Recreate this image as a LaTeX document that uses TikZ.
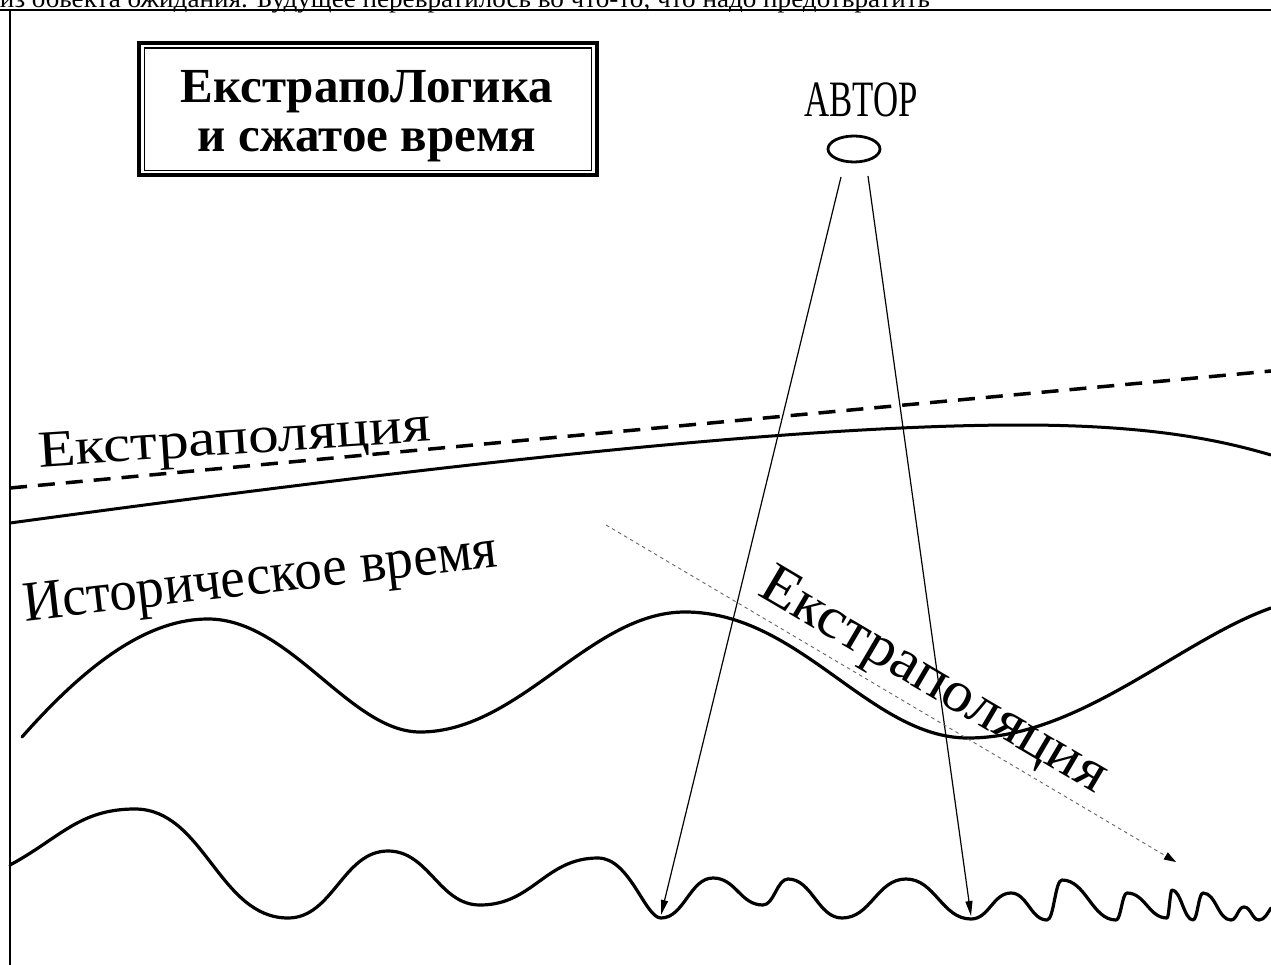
\documentclass[tikz,border=0pt]{standalone}
\usepackage{fontspec}
\setmainfont{Liberation Serif}
\usetikzlibrary{arrows.meta,shapes.geometric}
\begin{document}
\begin{tikzpicture}[x=1pt,y=-1pt,
  wave/.style={line width=3.2pt, line cap=round, line join=round},
  ray/.style={line width=1.2pt, -{Triangle[length=15pt,width=7pt]}},
  lbl/.style={inner sep=0pt, outer sep=0pt},
  frameline/.style={line width=2pt},
]
\useasboundingbox (0,0) rectangle (1271,965);
\fill[white] (0,0) rectangle (1271,965);
\clip (0,0) rectangle (1271,965);

% top caption and frame
\node[lbl, anchor=base west] (note) at (0,8) {\resizebox{930pt}{\height}{\fontsize{26}{26}\selectfont из обьекта ожидания. Будущее перевратилось во что-то, что надо предотвратить}};
\draw[frameline] (0,10) -- (1271,10);
\draw[frameline] (10,10) -- (10,965);

% title
\node[draw, line width=4pt, minimum width=458pt, minimum height=132.5pt, outer sep=0pt, inner sep=0pt] (titlebox) at (368,109.25) {};
\draw[line width=1.3pt] ([xshift=5.5pt,yshift=-5pt]titlebox.north west) rectangle ([xshift=-5.5pt,yshift=5pt]titlebox.south east);
\node[lbl, anchor=base, font=\bfseries\fontsize{49}{49}\selectfont] (title1) at (367,103) {ЕкстрапоЛогика};
\node[lbl, anchor=base, font=\bfseries\fontsize{49}{49}\selectfont] (title2) at (367,152) {и сжатое время};

% author
\node[lbl, anchor=base] (authorlbl) at (861,117) {\resizebox{113pt}{\height}{\fontsize{51}{51}\selectfont АВТОР}};
\node[draw, ellipse, line width=2.8pt, minimum width=52pt, minimum height=26pt, inner sep=0pt] (author) at (854,149) {};

% dashed extrapolation line
\coordinate (dA) at (10,488);
\coordinate (dB) at (1271,371);
\draw[line width=3.5pt, dash pattern=on 17pt off 11pt] (dA) -- (dB);

% upper solid curve
\draw[line width=3pt] (10,523) .. controls (400,470) and (780,425) .. (1020,425) .. controls (1150,425) and (1220,440) .. (1271,455);

% middle wave
\draw[wave] (22,737) .. controls (90,660) and (150,619) .. (208,619)
  .. controls (290,619) and (350,732) .. (420,732)
  .. controls (520,732) and (590,612) .. (685,612)
  .. controls (800,612) and (870,738) .. (968,738)
  .. controls (1080,738) and (1180,640) .. (1271,608);

% bottom wave
\draw[wave] (10,865) .. controls (60,838) and (79,809) .. (135,809)
  .. controls (204,809) and (219,918) .. (288,918)
  .. controls (333,918) and (343,851) .. (388,851)
  .. controls (429,851) and (439,905) .. (480,905)
  .. controls (533,905) and (545,858) .. (598,858)
  .. controls (630,858) and (645,918) .. (661,918)
  .. controls (684,918) and (690,878) .. (713,878)
  .. controls (736,878) and (740,905) .. (763,905)
  .. controls (774,905) and (777,879) .. (788,879)
  .. controls (812,879) and (818,918) .. (842,918)
  .. controls (871,918) and (877,879) .. (906,879)
  .. controls (935,879) and (942,919) .. (971,919)
  .. controls (989,919) and (993,893) .. (1011,893)
  .. controls (1027,893) and (1031,920) .. (1047,920)
  .. controls (1054,920) and (1055,880) .. (1062,880)
  .. controls (1086,880) and (1092,920) .. (1116,920)
  .. controls (1121,920) and (1122,893) .. (1127,893)
  .. controls (1145,893) and (1149,918) .. (1167,918)
  .. controls (1169,918) and (1170,890) .. (1172,890)
  .. controls (1181,890) and (1184,920) .. (1193,920)
  .. controls (1197.5,920) and (1198.5,893) .. (1203,893)
  .. controls (1216,893) and (1218,920) .. (1231,920)
  .. controls (1237,920) and (1238,907) .. (1244,907)
  .. controls (1251,907) and (1252,920) .. (1259,920)
  .. controls (1265,920) and (1268,912) .. (1271,908);

% rays from author
\coordinate (s1) at (841,177);
\coordinate (s2) at (868,176);
\coordinate (t1) at (661,915);
\coordinate (t2) at (971,916);
\draw[ray] (s1) -- (t1);
\draw[ray] (s2) -- (t2);

% dotted extrapolation arrow
\coordinate (pA) at (606,525);
\coordinate (pB) at (1176,862);
\draw[black!60, line width=0.9pt, dash pattern=on 3.5pt off 3.5pt, -{Triangle[length=12pt,width=8pt,color=black]}] (pA) -- (pB);

% labels
\node[lbl, anchor=base west, rotate=3.8] (extra1) at (39,467) {\resizebox{393pt}{\height}{\fontsize{52}{52}\selectfont Екстраполяция}};
\node[lbl, anchor=base west, rotate=6.5] (hist) at (25,621) {\resizebox{477pt}{\height}{\fontsize{57}{57}\selectfont Историческое время}};
\node[lbl, anchor=base west, rotate=-30.5] (extra2) at (756,594) {\resizebox{394pt}{\height}{\fontsize{58}{58}\selectfont Екстраполяция}};
\end{tikzpicture}
\end{document}
